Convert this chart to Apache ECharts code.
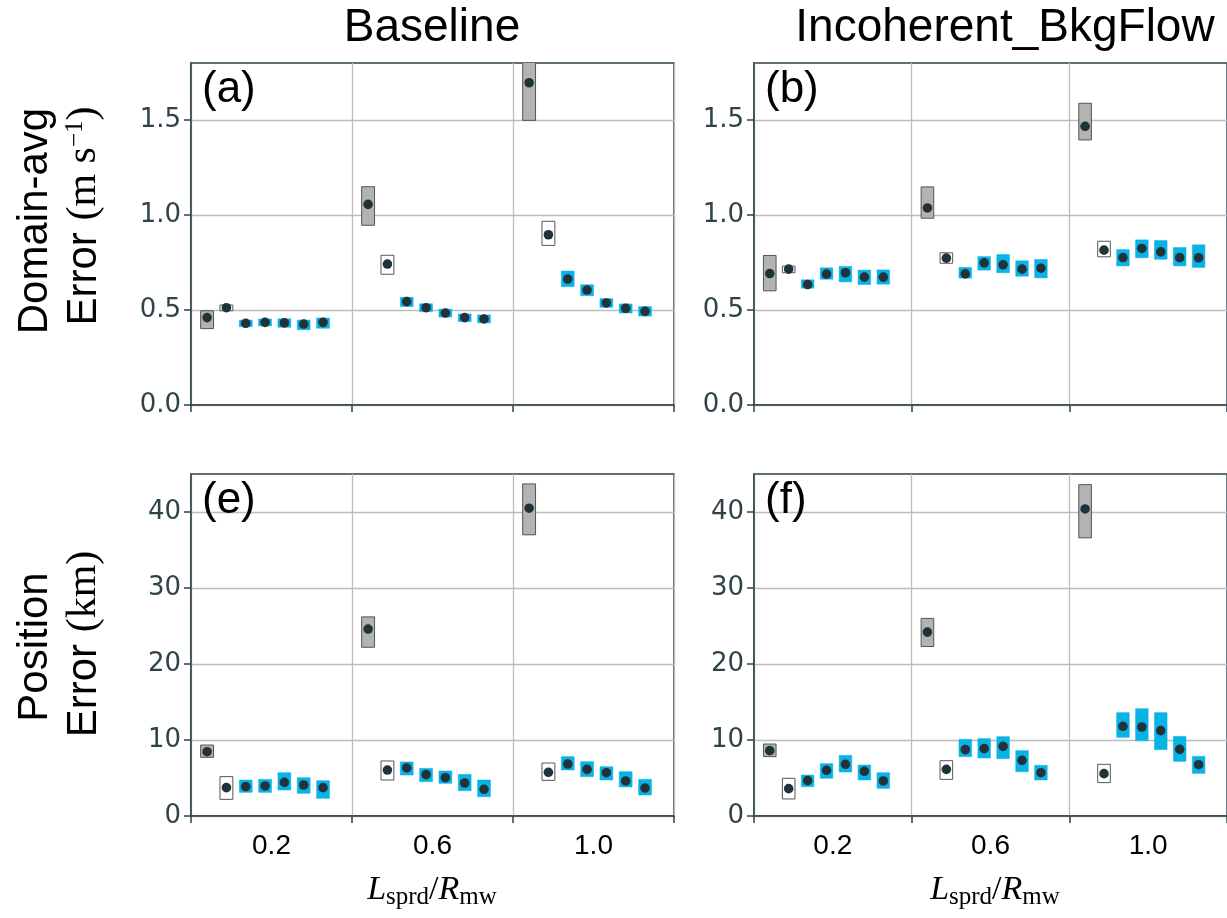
<!DOCTYPE html>
<html><head><meta charset="utf-8">
<script src="https://cdn.jsdelivr.net/npm/echarts@6/dist/echarts.min.js"></script>
<style>html,body{margin:0;padding:0;background:#fff}#c{width:1227px;height:918px}</style>
</head><body><div id="c"></div>
<script>
// ---------------- data ----------------
const groups = ['0.2', '0.6', '1.0'];
const boxKinds = ['gray', 'white', 'cyan', 'cyan', 'cyan', 'cyan', 'cyan'];
const domainTicks = [0, 0.5, 1.0, 1.5];
const positionTicks = [0, 10, 20, 30, 40];
const columnTitles = ['Baseline', 'Incoherent_BkgFlow'];
const panelLabels = ['(a)', '(b)', '(e)', '(f)'];

// (a) Baseline, domain-avg error (m/s): rows = groups, cols = boxes
const aMed  = [[0.460, 0.512, 0.430, 0.435, 0.432, 0.426, 0.435],
               [1.056, 0.742, 0.544, 0.512, 0.484, 0.460, 0.453],
               [1.696, 0.896, 0.663, 0.605, 0.537, 0.509, 0.493]];
const aLow  = [[0.402, 0.496, 0.412, 0.416, 0.409, 0.396, 0.404],
               [0.946, 0.688, 0.518, 0.491, 0.463, 0.439, 0.432],
               [1.498, 0.840, 0.623, 0.575, 0.514, 0.484, 0.468]];
const aHigh = [[0.496, 0.526, 0.447, 0.453, 0.454, 0.447, 0.458],
               [1.149, 0.788, 0.567, 0.533, 0.505, 0.479, 0.474],
               [1.900, 0.967, 0.705, 0.633, 0.560, 0.532, 0.518]];
// (b) Incoherent_BkgFlow, domain-avg error
const bMed  = [[0.692, 0.715, 0.634, 0.689, 0.696, 0.673, 0.673],
               [1.037, 0.773, 0.690, 0.748, 0.738, 0.715, 0.720],
               [1.467, 0.815, 0.776, 0.824, 0.806, 0.776, 0.775]];
const bLow  = [[0.601, 0.696, 0.615, 0.662, 0.648, 0.634, 0.636],
               [0.983, 0.746, 0.668, 0.710, 0.696, 0.678, 0.669],
               [1.395, 0.780, 0.732, 0.775, 0.767, 0.732, 0.724]];
const bHigh = [[0.787, 0.731, 0.659, 0.722, 0.729, 0.710, 0.711],
               [1.148, 0.801, 0.724, 0.781, 0.792, 0.759, 0.766],
               [1.588, 0.862, 0.818, 0.869, 0.866, 0.829, 0.843]];
// (e) Baseline, position error (km)
const eMed  = [[8.46, 3.73, 3.86, 3.95, 4.43, 4.08, 3.73],
               [24.6, 6.05, 6.32, 5.44, 5.04, 4.34, 3.51],
               [40.5, 5.75, 6.84, 6.14, 5.70, 4.61, 3.68]];
const eLow  = [[7.72, 2.19, 3.11, 3.11, 3.42, 2.98, 2.32],
               [22.2, 4.74, 5.39, 4.52, 4.30, 3.33, 2.54],
               [37.0, 4.69, 6.05, 5.18, 4.74, 3.82, 2.76]];
const eHigh = [[9.34, 5.18, 4.74, 4.82, 5.70, 5.04, 4.65],
               [26.2, 7.24, 7.11, 6.27, 5.92, 5.48, 4.74],
               [43.7, 6.97, 7.81, 7.15, 6.49, 5.83, 4.82]];
// (f) Incoherent_BkgFlow, position error (km)
const fMed  = [[8.60, 3.60, 4.65, 6.01, 6.80, 5.88, 4.61],
               [24.2, 6.14, 8.73, 8.86, 9.17, 7.32, 5.70],
               [40.4, 5.57, 11.80, 11.71, 11.23, 8.77, 6.75]];
const fLow  = [[7.81, 2.24, 3.86, 4.96, 5.79, 4.74, 3.64],
               [22.3, 4.82, 7.81, 7.63, 7.54, 5.83, 4.74],
               [36.6, 4.39, 10.35, 9.91, 8.73, 7.19, 5.61]];
const fHigh = [[9.47, 4.96, 5.39, 6.89, 7.98, 6.71, 5.70],
               [26.0, 7.28, 10.09, 10.18, 10.44, 8.60, 6.67],
               [43.6, 6.80, 13.60, 14.12, 13.60, 10.48, 7.85]];

// ---------------- styling / layout ----------------
const FIRST_OFF = 0.10, STEP = 0.12, BOX_W = 0.08;
const SPINE = '#2e4248', GRIDC = '#bdbdbd';
const kindStyle = {
  gray:  {fill: '#b3b3b3', stroke: '#555555', lineWidth: 1},
  white: {fill: '#ffffff', stroke: '#555555', lineWidth: 1},
  cyan:  {fill: '#08b3e6', stroke: '#08b3e6', lineWidth: 0.5}
};
const panels = [
  {med: aMed, low: aLow, high: aHigh, left: 191, top: 63,  max: 1.8, ticks: domainTicks, dec: 1, xlab: false},
  {med: bMed, low: bLow, high: bHigh, left: 754, top: 63,  max: 1.8, ticks: domainTicks, dec: 1, xlab: false},
  {med: eMed, low: eLow, high: eHigh, left: 191, top: 474, max: 45,  ticks: positionTicks, dec: 0, xlab: true},
  {med: fMed, low: fLow, high: fHigh, left: 754, top: 474, max: 45,  ticks: positionTicks, dec: 0, xlab: true}
];
const PW = 483, PH = 342;

function buildData(p) {
  const out = [];
  for (let g = 0; g < groups.length; g++) {
    for (let i = 0; i < boxKinds.length; i++) {
      out.push([g + FIRST_OFF + STEP * i, p.low[g][i], p.high[g][i], p.med[g][i], i]);
    }
  }
  return out;
}

function renderBox(params, api) {
  const x = api.value(0), lo = api.value(1), hi = api.value(2), md = api.value(3);
  const kind = boxKinds[api.value(4)];
  const pt = api.coord([x, hi]);
  const pb = api.coord([x, lo]);
  const pm = api.coord([x, md]);
  const w = api.size([BOX_W, 0])[0];
  return {
    type: 'group',
    children: [
      {type: 'rect', shape: {x: pt[0] - w / 2, y: pt[1], width: w, height: pb[1] - pt[1]}, style: kindStyle[kind]},
      {type: 'circle', shape: {cx: pm[0], cy: pm[1], r: 4.8}, style: {fill: '#22323a'}}
    ]
  };
}

const grid = [], xAxis = [], yAxis = [], series = [];
panels.forEach((p, k) => {
  grid.push({left: p.left, top: p.top, width: PW, height: PH, show: true,
             borderColor: SPINE, borderWidth: 1.5, backgroundColor: 'transparent'});
  xAxis.push({type: 'category', gridIndex: k, data: groups, boundaryGap: true,
    axisLine: {lineStyle: {color: SPINE, width: 1.5}},
    axisTick: {show: true, length: 7, lineStyle: {color: SPINE, width: 1.5}},
    axisLabel: {show: p.xlab, fontFamily: 'Liberation Sans', fontSize: 28, color: '#000', margin: 16},
    splitLine: {show: true, lineStyle: {color: GRIDC, width: 1.3}}});
  xAxis.push({type: 'value', gridIndex: k, min: 0, max: groups.length, show: false});
  yAxis.push({type: 'value', gridIndex: k, min: 0, max: p.max,
    axisLine: {show: true, lineStyle: {color: SPINE, width: 1.5}},
    axisTick: {show: true, length: 7, customValues: p.ticks, lineStyle: {color: SPINE, width: 1.5}},
    axisLabel: {customValues: p.ticks, fontFamily: 'DejaVu Sans', fontSize: 26, color: '#2f4449', margin: 10,
                formatter: v => Number(v).toFixed(p.dec)},
    splitLine: {show: true, lineStyle: {color: GRIDC, width: 1.3}}});
  series.push({type: 'custom', xAxisIndex: 2 * k + 1, yAxisIndex: k, clip: true,
    renderItem: renderBox, data: buildData(p), z: 5});
});

const graphic = [];
// column titles
[[432, columnTitles[0]], [1005, columnTitles[1]]].forEach(([x, t]) => {
  graphic.push({type: 'text', x: x, y: 28, style: {text: t, font: '46px "Liberation Sans"', fill: '#000',
    textAlign: 'center', textVerticalAlign: 'middle', align: 'center', verticalAlign: 'middle'}});
});
// panel letters
panels.forEach((p, k) => {
  graphic.push({type: 'text', x: p.left + 11, y: p.top + 27, z: 10, style: {text: panelLabels[k],
    font: '44px "Liberation Sans"', fill: '#000', textAlign: 'left', textVerticalAlign: 'middle',
    align: 'left', verticalAlign: 'middle'}});
});
// y-axis names (rotated)
function vtext(x, y, text, rich) {
  return {type: 'text', x: x, y: y, rotation: Math.PI / 2,
    style: {text: text, rich: rich, font: '42px "Liberation Sans"', fill: '#000',
      textAlign: 'center', textVerticalAlign: 'middle', align: 'center', verticalAlign: 'middle'}};
}
const yRich = {
  a: {fontFamily: 'Liberation Sans', fontSize: 42, color: '#000'},
  b: {fontFamily: 'Liberation Serif', fontSize: 42, color: '#000'},
  c: {fontFamily: 'Liberation Serif', fontSize: 25, color: '#000', verticalAlign: 'top', padding: [0, 0, 14, 0]}
};
graphic.push(vtext(35, 221, 'Domain-avg', null));
graphic.push(vtext(84, 216, '{a|Error }{b|(m s}{c|−1}{b|)}', yRich));
graphic.push(vtext(35, 647, 'Position', null));
graphic.push(vtext(84, 644, '{a|Error }{b|(km)}', yRich));
// x-axis names
const xRich = {
  L: {fontFamily: 'Liberation Serif', fontStyle: 'italic', fontSize: 34, color: '#000'},
  n: {fontFamily: 'Liberation Serif', fontSize: 34, color: '#000'},
  s: {fontFamily: 'Liberation Serif', fontSize: 25, color: '#000', verticalAlign: 'bottom', padding: [14, 0, 0, 0]}
};
[432, 995].forEach(x => {
  graphic.push({type: 'text', x: x, y: 890, style: {text: '{L|L}{s|sprd}{n|/}{L|R}{s|mw}', rich: xRich,
    textAlign: 'center', textVerticalAlign: 'middle', align: 'center', verticalAlign: 'middle'}});
});

const chart = echarts.init(document.getElementById('c'), null, {renderer: 'canvas'});
chart.setOption({animation: false, backgroundColor: '#fff', grid, xAxis, yAxis, series, graphic});
</script></body></html>
